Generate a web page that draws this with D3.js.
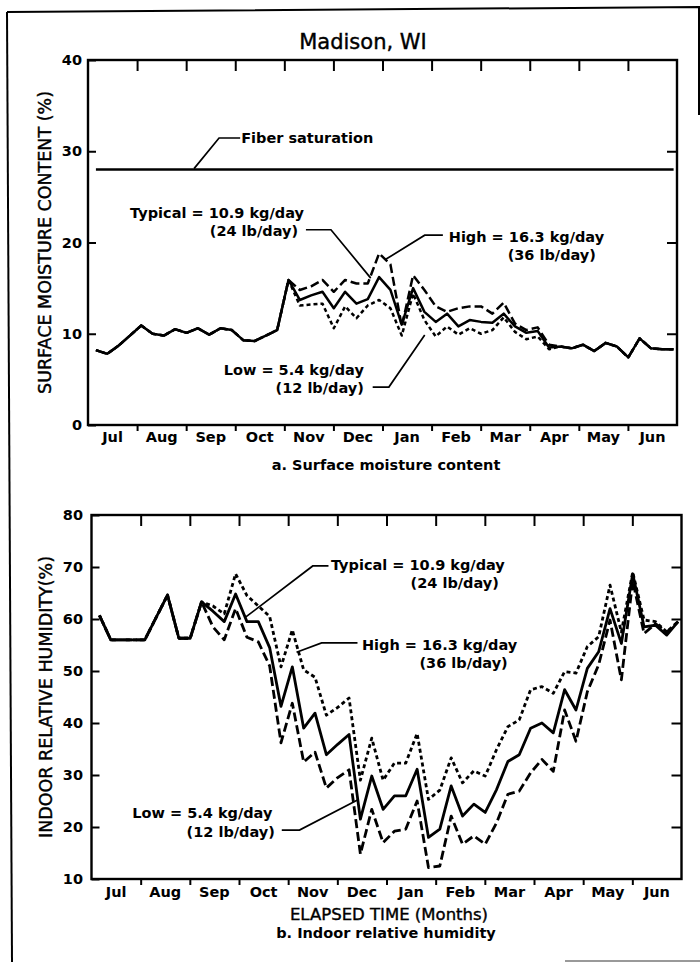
<!DOCTYPE html>
<html>
<head>
<meta charset="utf-8">
<script src="https://cdn.jsdelivr.net/npm/d3@7"></script>
<style>
  body { margin: 0; background: #fff; }
  text { font-family: "DejaVu Sans", "Liberation Sans", sans-serif; fill: #000; }
</style>
</head>
<body>
<svg id="chart" width="700" height="962"></svg>
<script>
// ---- data (one reading per week, Jul -> Jun) ----
const months = ["Jul", "Aug", "Sep", "Oct", "Nov", "Dec", "Jan", "Feb", "Mar", "Apr", "May", "Jun"];
const moistureTicks = [0, 10, 20, 30, 40];
const humidityTicks = [10, 20, 30, 40, 50, 60, 70, 80];
const fiberSaturation = 28;

const moistureTypical = [8.2, 7.8, 8.7, 9.8, 10.9, 10.0, 9.8, 10.5, 10.1, 10.6, 9.9, 10.6, 10.4, 9.3, 9.2, 9.8, 10.4, 15.9,
  13.7, 14.2, 14.6, 12.8, 14.6, 13.3, 13.8, 16.2, 14.8, 11.0, 15.0, 12.4, 11.3, 12.2, 10.8, 11.5, 11.3, 11.2, 12.2, 10.8,
  10.1, 10.3, 8.5, 8.6, 8.4, 8.8, 8.1, 9.0, 8.6, 7.4, 9.5, 8.4, 8.3, 8.3];
const moistureHigh = [8.2, 7.8, 8.7, 9.8, 10.9, 10.0, 9.8, 10.5, 10.1, 10.6, 9.9, 10.6, 10.4, 9.3, 9.2, 9.8, 10.4, 15.9,
  14.8, 15.2, 15.9, 14.6, 15.9, 15.5, 15.5, 18.8, 17.6, 10.8, 16.4, 14.8, 13.0, 12.4, 12.8, 13.0, 13.0, 12.2, 13.4, 11.1,
  10.4, 10.7, 8.8, 8.6, 8.4, 8.8, 8.1, 9.0, 8.6, 7.4, 9.5, 8.4, 8.3, 8.3];
const moistureLow = [8.2, 7.8, 8.7, 9.8, 10.9, 10.0, 9.8, 10.5, 10.1, 10.6, 9.9, 10.6, 10.4, 9.3, 9.2, 9.8, 10.4, 15.9,
  13.1, 13.2, 13.3, 10.6, 13.0, 11.7, 13.1, 13.7, 12.8, 9.8, 14.4, 11.5, 9.7, 10.8, 9.9, 10.6, 10.0, 10.4, 11.8, 10.2,
  9.4, 9.7, 8.3, 8.6, 8.4, 8.8, 8.1, 9.0, 8.6, 7.4, 9.5, 8.4, 8.3, 8.3];

const humidityTypical = [60.7, 56.0, 56.0, 56.0, 56.0, 60.3, 64.6, 56.3, 56.3, 63.3, 61.5, 59.5, 64.8, 59.5, 59.5, 54.5,
  43.2, 50.8, 39.0, 41.9, 33.9, 35.9, 37.8, 21.5, 29.8, 23.4, 26.0, 26.0, 31.1, 18.0, 19.6, 27.9, 22.1, 24.4, 22.8, 27.2,
  32.6, 33.9, 39.0, 40.0, 38.1, 46.4, 42.5, 50.5, 53.7, 62.0, 55.3, 68.7, 58.5, 58.8, 56.9, 59.5];
const humidityHigh = [60.7, 56.0, 56.0, 56.0, 56.0, 60.3, 64.6, 56.3, 56.3, 63.3, 62.5, 61.0, 68.7, 64.5, 62.5, 60.5,
  50.8, 57.9, 50.2, 48.8, 41.5, 43.0, 44.8, 29.0, 37.1, 29.0, 32.3, 32.3, 38.0, 25.3, 27.1, 33.3, 28.5, 30.8, 29.8, 34.9,
  39.3, 40.6, 46.4, 47.0, 45.7, 49.9, 49.6, 54.7, 56.6, 66.5, 57.5, 69.0, 59.8, 59.5, 57.5, 59.5];
const humidityLow = [60.7, 56.0, 56.0, 56.0, 56.0, 60.3, 64.6, 56.3, 56.3, 63.3, 58.5, 56.0, 62.0, 56.5, 55.6, 51.0,
  36.2, 43.8, 32.5, 34.4, 27.5, 29.5, 31.0, 14.8, 23.4, 17.0, 19.2, 19.6, 25.0, 12.2, 12.5, 22.1, 16.7, 18.3, 16.7, 20.8,
  26.3, 26.9, 30.4, 33.0, 30.7, 42.5, 36.5, 46.0, 51.2, 59.8, 48.3, 67.4, 57.2, 59.1, 57.5, 59.5];

// week index -> elapsed months
const weekMonth = i => (i + 0.7) * 12 / 52;

const LONG = "9,4", SHORT = "4,3";

const svg = d3.select("#chart");

// scanned sheet border
svg.append("path").attr("d", "M7,12 L699,7 L699,115").attr("fill", "none").attr("stroke", "#000").attr("stroke-width", 2);
svg.append("line").attr("x1", 7).attr("y1", 12).attr("x2", 12).attr("y2", 962).attr("stroke", "#000").attr("stroke-width", 2);
svg.append("line").attr("x1", 565).attr("y1", 961).attr("x2", 700).attr("y2", 961).attr("stroke", "#777").attr("stroke-width", 1.5);

svg.append("text").attr("x", 363).attr("y", 49).attr("text-anchor", "middle")
  .attr("font-size", 21).attr("stroke", "#000").attr("stroke-width", 0.4).text("Madison, WI");

const panels = [
  {
    left: 88, right: 677, top: 60, bottom: 425,
    domain: [0, 40], ticks: moistureTicks, labelPad: 6, monthPad: 6.5, lineWidth: 2.5,
    yLabel: "SURFACE  MOISTURE  CONTENT (%)", yLabelX: 45,
    caption: "a. Surface moisture content", captionY: 470,
    series: [
      { values: moistureHigh, dash: LONG },
      { values: moistureLow, dash: SHORT },
      { values: moistureTypical, dash: null }
    ],
    fiber: fiberSaturation,
    notes: [
      { lines: [{ t: "Fiber saturation", m: 3.12, v: 30.9, a: "start" }],
        leader: [[3.1, 31.45], [2.67, 31.45], [2.16, 28.1]] },
      { lines: [{ t: "Typical = 10.9 kg/day", m: 4.4, v: 22.7, a: "end" }, { t: "(24 lb/day)", m: 4.28, v: 20.7, a: "end" }],
        leader: [[4.44, 21.4], [4.95, 21.4], [5.76, 16.1]] },
      { lines: [{ t: "High = 16.3 kg/day", m: 7.35, v: 20.05, a: "start" }, { t: "(36 lb/day)", m: 8.55, v: 18.1, a: "start" }],
        leader: [[7.23, 20.8], [6.86, 20.8], [6.05, 18.1]] },
      { lines: [{ t: "Low = 5.4 kg/day", m: 5.62, v: 5.48, a: "end" }, { t: "(12 lb/day)", m: 5.62, v: 3.5, a: "end" }],
        leader: [[5.8, 4.16], [6.13, 4.16], [6.86, 9.86]] }
    ]
  },
  {
    left: 91.5, right: 681.5, top: 515, bottom: 879,
    domain: [10, 80], ticks: humidityTicks, labelPad: 8.5, monthPad: 7.5, lineWidth: 2.8,
    yLabel: "INDOOR  RELATIVE  HUMIDITY(%)", yLabelX: 46,
    xLabel: "ELAPSED  TIME  (Months)", xLabelY: 920,
    caption: "b. Indoor relative humidity", captionY: 938,
    series: [
      { values: humidityHigh, dash: SHORT },
      { values: humidityLow, dash: LONG },
      { values: humidityTypical, dash: null }
    ],
    notes: [
      { lines: [{ t: "Typical = 10.9 kg/day", m: 4.87, v: 69.4, a: "start" }, { t: "(24 lb/day)", m: 6.49, v: 66.0, a: "start" }],
        leader: [[4.82, 70.2], [4.5, 70.2], [3.14, 60.4]] },
      { lines: [{ t: "High = 16.3 kg/day", m: 5.5, v: 54.0, a: "start" }, { t: "(36 lb/day)", m: 6.67, v: 50.6, a: "start" }],
        leader: [[5.41, 55.4], [4.68, 55.4], [4.17, 53.6]] },
      { lines: [{ t: "Low = 5.4 kg/day", m: 3.68, v: 21.7, a: "end" }, { t: "(12 lb/day)", m: 3.73, v: 18.1, a: "end" }],
        leader: [[3.87, 19.4], [4.23, 19.4], [5.41, 25.2]] }
    ]
  }
];

function styleAxis(a) {
  a.select(".domain").remove();
  a.selectAll("line").attr("stroke", "#000").attr("stroke-width", 2);
  a.attr("font-family", null).attr("font-size", 14.5).attr("font-weight", "bold");
}

panels.forEach(p => {
  const x = d3.scaleLinear().domain([0, 12]).range([p.left, p.right]);
  const y = d3.scaleLinear().domain(p.domain).range([p.bottom, p.top]);
  const band = d3.scaleBand().domain(months).range([p.left, p.right]);
  const g = svg.append("g");

  // month boundary ticks
  g.append("g").attr("transform", `translate(0,${p.bottom})`)
    .call(d3.axisBottom(x).tickValues(d3.range(1, 12)).tickSize(6).tickFormat(""))
    .call(styleAxis);
  g.append("g").attr("transform", `translate(0,${p.top})`)
    .call(d3.axisTop(x).tickValues(d3.range(1, 12)).tickSize(-11).tickFormat(""))
    .call(styleAxis);
  // month names
  g.append("g").attr("transform", `translate(0,${p.bottom})`)
    .call(d3.axisBottom(band).tickSize(0).tickPadding(p.monthPad))
    .call(styleAxis);
  // value axes
  g.append("g").attr("transform", `translate(${p.left},0)`)
    .call(d3.axisLeft(y).tickValues(p.ticks).tickSizeInner(-8).tickSizeOuter(0).tickPadding(p.labelPad))
    .call(styleAxis);
  g.append("g").attr("transform", `translate(${p.right},0)`)
    .call(d3.axisRight(y).tickValues(p.ticks.slice(1, -1)).tickSizeInner(-10).tickSizeOuter(0).tickFormat(""))
    .call(styleAxis);

  g.append("rect")
    .attr("x", p.left).attr("y", p.top)
    .attr("width", p.right - p.left).attr("height", p.bottom - p.top)
    .attr("fill", "none").attr("stroke", "#000").attr("stroke-width", 2.4);

  if (p.fiber != null) {
    g.append("line")
      .attr("x1", x(weekMonth(0))).attr("x2", x(weekMonth(51)))
      .attr("y1", y(p.fiber)).attr("y2", y(p.fiber))
      .attr("stroke", "#000").attr("stroke-width", 2.6);
  }

  const line = d3.line().x((d, i) => x(weekMonth(i))).y(d => y(d));
  p.series.forEach(s => {
    g.append("path").datum(s.values)
      .attr("d", line)
      .attr("fill", "none")
      .attr("stroke", "#000")
      .attr("stroke-width", p.lineWidth)
      .attr("stroke-linejoin", "round")
      .attr("stroke-dasharray", s.dash);
  });

  // callouts
  p.notes.forEach(n => {
    g.append("path")
      .attr("d", d3.line().x(d => x(d[0])).y(d => y(d[1]))(n.leader))
      .attr("fill", "none").attr("stroke", "#000").attr("stroke-width", 1.7);
    n.lines.forEach(l => {
      g.append("text")
        .attr("x", x(l.m)).attr("y", y(l.v))
        .attr("text-anchor", l.a)
        .attr("font-size", 14.5).attr("font-weight", "bold")
        .text(l.t);
    });
  });

  g.append("text")
    .attr("transform", `translate(${p.yLabelX},${(p.top + p.bottom) / 2}) rotate(-90)`)
    .attr("dy", "0.35em").attr("text-anchor", "middle")
    .attr("font-size", 17.5).attr("stroke", "#000").attr("stroke-width", 0.4)
    .text(p.yLabel);

  if (p.xLabel) {
    g.append("text").attr("x", 389).attr("y", p.xLabelY).attr("text-anchor", "middle")
      .attr("font-size", 16.5).attr("stroke", "#000").attr("stroke-width", 0.4).text(p.xLabel);
  }
  g.append("text").attr("x", 386).attr("y", p.captionY).attr("text-anchor", "middle")
    .attr("font-size", 14.5).attr("font-weight", "bold").text(p.caption);
});
</script>
</body>
</html>
